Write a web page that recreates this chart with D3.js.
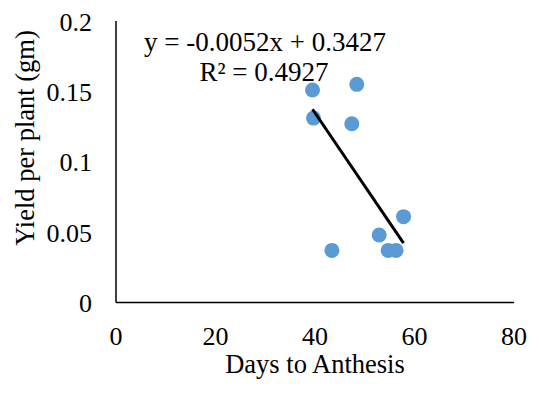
<!DOCTYPE html>
<html lang="en">
<head>
<meta charset="UTF-8">
<script src="https://d3js.org/d3.v7.min.js"></script>
<style>
  body { margin: 0; background: #fff; }
  text { font-family: "Liberation Serif", "Times New Roman", serif; fill: #000; }
</style>
</head>
<body>
<script>
    const width = 539;
    const height = 394;

    // data
    const daysToAnthesis = [39.5, 48.4, 39.7, 47.4, 57.8, 52.9, 43.4, 54.7, 56.3];
    const yieldPerPlant  = [0.151, 0.155, 0.131, 0.127, 0.061, 0.048, 0.037, 0.037, 0.037];
    const xTicks = [0, 20, 40, 60, 80];
    const yTicks = [0, 0.05, 0.1, 0.15, 0.2];
    const slope = -0.0052, intercept = 0.3427;
    const equationText = "y = -0.0052x + 0.3427";
    const r2Text = "R² = 0.4927";

    const svg = d3.select("body").append("svg")
        .attr("width", width).attr("height", height);

    const x = d3.scaleLinear().domain([0, 80]).range([116, 514]);
    const y = d3.scaleLinear().domain([0, 0.2]).range([302.5, 21]);

    // axis lines
    svg.append("line")
        .attr("x1", x(0)).attr("x2", x(0))
        .attr("y1", y(0.2)).attr("y2", y(0))
        .style("stroke", "#000").style("stroke-width", 1.5);
    svg.append("line")
        .attr("x1", x(0)).attr("x2", x(80))
        .attr("y1", y(0)).attr("y2", y(0))
        .style("stroke", "#000").style("stroke-width", 1.5);

    // tick labels
    svg.selectAll("text.xtick")
        .data(xTicks)
        .enter().append("text")
        .attr("class", "xtick")
        .attr("x", d => x(d))
        .attr("y", 345)
        .attr("text-anchor", "middle")
        .style("font-size", "26px")
        .text(d => d);

    svg.selectAll("text.ytick")
        .data(yTicks)
        .enter().append("text")
        .attr("class", "ytick")
        .attr("x", 92)
        .attr("y", d => y(d) + 9.5)
        .attr("text-anchor", "end")
        .style("font-size", "26px")
        .text(d => d);

    // axis titles
    svg.append("text")
        .attr("x", 315).attr("y", 373)
        .attr("text-anchor", "middle")
        .style("font-size", "26.5px")
        .text("Days to Anthesis");

    svg.append("text")
        .attr("transform", "translate(34,138) rotate(-90)")
        .attr("text-anchor", "middle")
        .style("font-size", "26.5px")
        .text("Yield per plant (gm)");

    // points
    const pts = daysToAnthesis.map((d, i) => [d, yieldPerPlant[i]]);
    svg.selectAll("circle.pt")
        .data(pts)
        .enter().append("circle")
        .attr("class", "pt")
        .attr("cx", d => x(d[0]))
        .attr("cy", d => y(d[1]))
        .attr("r", 7.5)
        .style("fill", "#5b9bd5");

    // linear trendline
    const xMin = d3.min(daysToAnthesis), xMax = d3.max(daysToAnthesis);
    svg.append("line")
        .attr("x1", x(xMin)).attr("y1", y(slope * xMin + intercept))
        .attr("x2", x(xMax)).attr("y2", y(slope * xMax + intercept))
        .style("stroke", "#000").style("stroke-width", 3);

    // equation labels
    svg.append("text")
        .attr("x", 265).attr("y", 51)
        .attr("text-anchor", "middle")
        .style("font-size", "27px")
        .text(equationText);
    svg.append("text")
        .attr("x", 264).attr("y", 81)
        .attr("text-anchor", "middle")
        .style("font-size", "27px")
        .text(r2Text);
</script>
</body>
</html>
